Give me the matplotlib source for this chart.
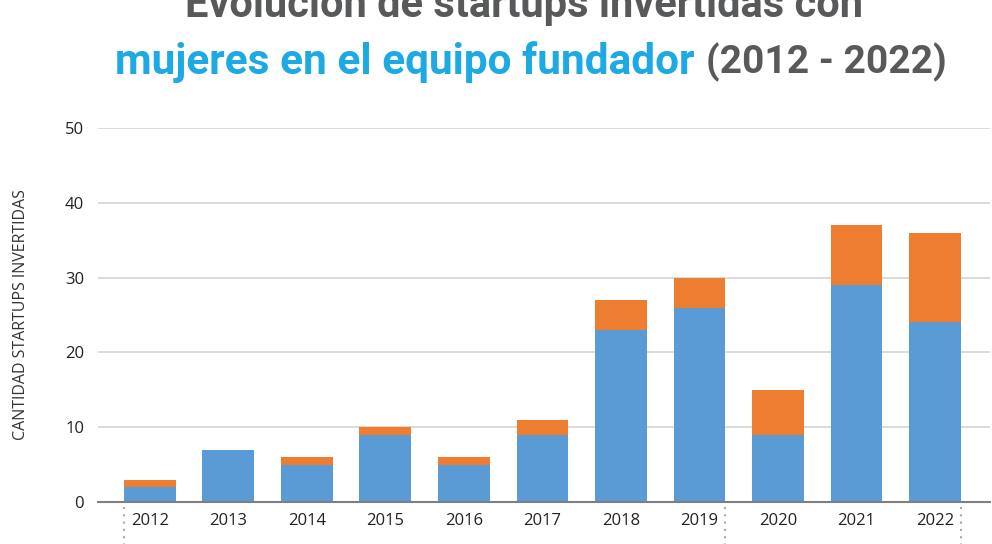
import matplotlib.pyplot as plt
import numpy as np

# data
years = ['2012', '2013', '2014', '2015', '2016', '2017', '2018', '2019', '2020', '2021', '2022']
blue_vals = [2, 7, 5, 9, 5, 9, 23, 26, 9, 29, 24]
orange_vals = [1, 0, 1, 1, 1, 2, 4, 4, 6, 8, 12]
y_ticks = [0, 10, 20, 30, 40, 50]

blue = '#5B9BD5'
orange = '#ED7D31'
gray_title = '#58595B'
blue_title = '#1DA9E1'

fig = plt.figure(figsize=(9.92, 5.44), dpi=100)
ax = fig.add_axes([98 / 992, 1 - 502 / 544, 892 / 992, 374 / 544])

x = np.arange(len(years))
w = 0.66
ax.bar(x, blue_vals, width=w, color=blue, zorder=3)
ax.bar(x, orange_vals, width=w, bottom=blue_vals, color=orange, zorder=3)

ax.set_xlim(-0.66, 10.7)
ax.set_ylim(0, 50)
ax.set_yticks(y_ticks)
ax.set_xticks(x)
ax.set_xticklabels(years)
ax.yaxis.grid(True, color='#D4D4D4', linewidth=1.2, zorder=0)
ax.tick_params(axis='both', length=0, labelsize=12, colors='#222222', pad=10)
ax.tick_params(axis='x', pad=8)
for lab in ax.get_xticklabels() + ax.get_yticklabels():
    lab.set_family('Open Sans')
for s in ['top', 'right', 'left']:
    ax.spines[s].set_visible(False)
ax.spines['bottom'].set_color('#7F7F7F')
ax.spines['bottom'].set_linewidth(1.5)
ax.spines['bottom'].set_zorder(4)

ax.set_ylabel('CANTIDAD STARTUPS INVERTIDAS', family='Open Sans', fontsize=11.5,
              color='#333333', labelpad=26)

# dotted separators under the axis
for xs in [x[0] - w / 2, x[7] + w / 2, x[10] + w / 2]:
    ax.plot([xs, xs], [-0.7, -6], color='#AAAAAA', linestyle=(0, (1, 2.5)),
            linewidth=1.5, clip_on=False)

# title (first line runs off the top edge, as in the original)
fig.text(524 / 992, 1 - 5 / 544, 'Evolución de startups invertidas con', ha='center', va='center',
         fontsize=30, fontweight='bold', color=gray_title, family='Roboto')
fig.text(694 / 992, 1 - 62 / 544, 'mujeres en el equipo fundador', ha='right', va='center',
         fontsize=30.5, fontweight='bold', color=blue_title, family='Roboto')
fig.text(706 / 992, 1 - 62 / 544, '(2012 - 2022)', ha='left', va='center',
         fontsize=28, fontweight='bold', color=gray_title, family='Roboto')

fig.savefig('out.png', dpi=100)
